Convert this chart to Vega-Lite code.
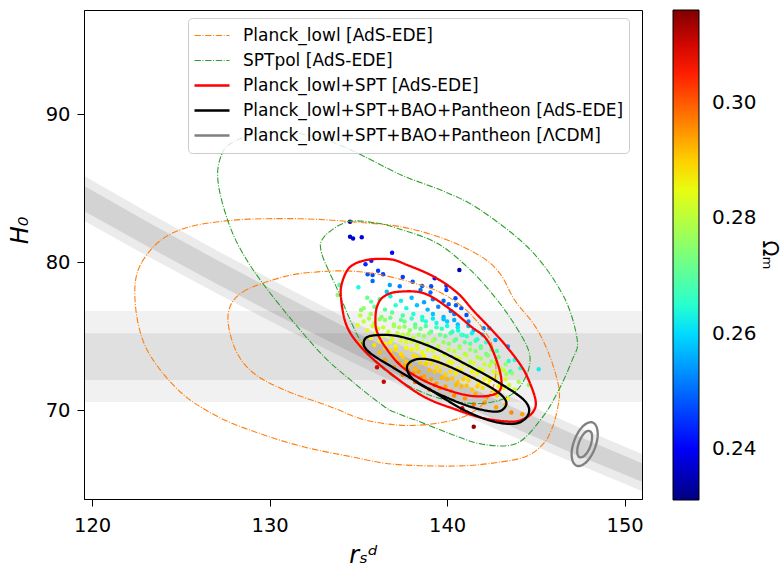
{
  "$schema": "https://vega.github.io/schema/vega-lite/v6.json",
  "width": 558,
  "height": 489,
  "autosize": {"type": "none"},
  "padding": {"left": 84, "top": 10, "right": 142, "bottom": 73},
  "background": "white",
  "config": {
    "view": {"stroke": "black", "strokeWidth": 1},
    "axis": {
      "domainColor": "black", "tickColor": "black", "tickSize": 7, "tickWidth": 1,
      "labelFont": "DejaVu Sans", "labelFontSize": 19.5, "labelColor": "black",
      "titleFont": "DejaVu Sans", "titleColor": "black", "titleFontWeight": "normal",
      "grid": false
    },
    "legend": {
      "labelFont": "DejaVu Sans", "labelColor": "black"
    }
  },
  "datasets": {
    "hband": [
      {"k": "outer", "xa": 119.54, "xb": 150.98, "lo": 70.55, "hi": 76.7},
      {"k": "inner", "xa": 119.54, "xb": 150.98, "lo": 72.05, "hi": 75.2}
    ],
    "dband": [
      {"x": 119.54, "lo2": 82.80, "lo1": 83.46, "hi1": 85.18, "hi2": 85.84},
      {"x": 123, "lo2": 80.49, "lo1": 81.15, "hi1": 82.81, "hi2": 83.47},
      {"x": 127, "lo2": 77.91, "lo1": 78.55, "hi1": 80.17, "hi2": 80.81},
      {"x": 131, "lo2": 75.42, "lo1": 76.06, "hi1": 77.62, "hi2": 78.26},
      {"x": 135, "lo2": 73.04, "lo1": 73.67, "hi1": 75.17, "hi2": 75.80},
      {"x": 139, "lo2": 70.76, "lo1": 71.39, "hi1": 72.83, "hi2": 73.46},
      {"x": 143, "lo2": 68.58, "lo1": 69.21, "hi1": 70.59, "hi2": 71.22},
      {"x": 147, "lo2": 66.51, "lo1": 67.13, "hi1": 68.45, "hi2": 69.07},
      {"x": 150.98, "lo2": 64.54, "lo1": 65.16, "hi1": 66.42, "hi2": 67.04}
    ],
    "pts": [
      {"rd":134.53,"H0":82.74,"om":0.234},{"rd":134.53,"H0":81.73,"om":0.237},{"rd":134.7,"H0":81.6,"om":0.238},{"rd":135.19,"H0":81.69,"om":0.239},
      {"rd":135.4,"H0":79.86,"om":0.244},{"rd":135.73,"H0":80.1,"om":0.243},{"rd":136.9,"H0":80.65,"om":0.241},{"rd":136.11,"H0":79.43,"om":0.246},
      {"rd":135.52,"H0":79.19,"om":0.248},{"rd":135.8,"H0":79.14,"om":0.247},{"rd":135.8,"H0":78.74,"om":0.25},{"rd":136.39,"H0":79.19,"om":0.246},
      {"rd":137.5,"H0":79.0,"om":0.246},{"rd":138.06,"H0":78.69,"om":0.248},{"rd":138.59,"H0":78.4,"om":0.249},{"rd":138.5,"H0":78.13,"om":0.251},
      {"rd":139.1,"H0":78.38,"om":0.247},{"rd":139.06,"H0":77.95,"om":0.25},{"rd":137.33,"H0":78.38,"om":0.252},{"rd":136.77,"H0":78.47,"om":0.255},
      {"rd":139.3,"H0":78.92,"om":0.243},{"rd":140.69,"H0":79.48,"om":0.234},{"rd":139.96,"H0":78.42,"om":0.245},{"rd":139.96,"H0":78.13,"om":0.246},
      {"rd":140.47,"H0":77.57,"om":0.247},{"rd":140.09,"H0":77.16,"om":0.25},{"rd":141.09,"H0":76.44,"om":0.248},{"rd":136.6,"H0":78.0,"om":0.258},
      {"rd":135.0,"H0":78.31,"om":0.263},{"rd":133.93,"H0":78.47,"om":0.268},{"rd":133.83,"H0":77.79,"om":0.274},{"rd":135.15,"H0":76.78,"om":0.275},
      {"rd":134.96,"H0":75.76,"om":0.283},{"rd":135.72,"H0":77.34,"om":0.27},
      {"rd":135.5,"H0":77.6,"om":0.272},{"rd":136.2,"H0":77.5,"om":0.268},{"rd":136.8,"H0":77.7,"om":0.262},{"rd":137.4,"H0":77.4,"om":0.262},{"rd":138.0,"H0":77.6,"om":0.257},{"rd":138.7,"H0":77.3,"om":0.255},{"rd":139.2,"H0":77.5,"om":0.252},{"rd":139.8,"H0":77.4,"om":0.25},{"rd":140.5,"H0":77.1,"om":0.249},
      {"rd":135.3,"H0":76.9,"om":0.276},{"rd":135.9,"H0":77.0,"om":0.272},{"rd":136.5,"H0":76.8,"om":0.27},{"rd":137.1,"H0":77.1,"om":0.265},{"rd":137.7,"H0":76.9,"om":0.263},{"rd":138.3,"H0":77.1,"om":0.258},{"rd":138.9,"H0":76.8,"om":0.257},{"rd":139.5,"H0":77.0,"om":0.253},{"rd":140.2,"H0":76.7,"om":0.252},{"rd":140.8,"H0":76.9,"om":0.248},
      {"rd":135.1,"H0":76.4,"om":0.28},{"rd":135.7,"H0":76.5,"om":0.277},{"rd":136.3,"H0":76.3,"om":0.274},{"rd":136.9,"H0":76.6,"om":0.27},{"rd":137.5,"H0":76.4,"om":0.268},{"rd":138.1,"H0":76.5,"om":0.264},{"rd":138.6,"H0":76.3,"om":0.263},{"rd":139.2,"H0":76.5,"om":0.258},{"rd":139.8,"H0":76.3,"om":0.257},{"rd":140.4,"H0":76.5,"om":0.252},
      {"rd":135.3,"H0":76.0,"om":0.281},{"rd":135.9,"H0":75.9,"om":0.28},{"rd":136.5,"H0":76.1,"om":0.276},{"rd":137.0,"H0":75.8,"om":0.276},{"rd":137.6,"H0":76.0,"om":0.272},{"rd":138.2,"H0":75.8,"om":0.27},{"rd":138.8,"H0":76.0,"om":0.265},{"rd":139.4,"H0":75.9,"om":0.263},{"rd":140.0,"H0":76.0,"om":0.259},{"rd":140.6,"H0":75.8,"om":0.258},{"rd":141.2,"H0":76.0,"om":0.253},
      {"rd":135.5,"H0":75.4,"om":0.284},{"rd":136.1,"H0":75.5,"om":0.282},{"rd":136.7,"H0":75.3,"om":0.281},{"rd":137.3,"H0":75.6,"om":0.278},{"rd":137.9,"H0":75.4,"om":0.276},{"rd":138.5,"H0":75.5,"om":0.272},{"rd":139.1,"H0":75.3,"om":0.27},{"rd":139.7,"H0":75.5,"om":0.266},{"rd":140.3,"H0":75.3,"om":0.265},{"rd":140.62,"H0":75.38,"om":0.263},{"rd":140.88,"H0":75.09,"om":0.263},{"rd":141.5,"H0":75.4,"om":0.258},{"rd":142.38,"H0":75.54,"om":0.255},
      {"rd":135.7,"H0":74.9,"om":0.287},{"rd":136.3,"H0":75.0,"om":0.284},{"rd":136.9,"H0":74.8,"om":0.283},{"rd":137.5,"H0":75.1,"om":0.281},{"rd":138.1,"H0":74.9,"om":0.28},{"rd":138.7,"H0":75.0,"om":0.276},{"rd":139.3,"H0":74.8,"om":0.275},{"rd":139.9,"H0":75.0,"om":0.271},{"rd":140.5,"H0":74.8,"om":0.27},{"rd":141.1,"H0":75.0,"om":0.266},{"rd":141.7,"H0":74.8,"om":0.265},{"rd":142.72,"H0":74.75,"om":0.256},
      {"rd":135.15,"H0":74.53,"om":0.29},{"rd":135.9,"H0":74.4,"om":0.289},{"rd":136.5,"H0":74.5,"om":0.287},{"rd":137.1,"H0":74.3,"om":0.286},{"rd":137.7,"H0":74.6,"om":0.283},{"rd":138.3,"H0":74.4,"om":0.282},{"rd":138.9,"H0":74.5,"om":0.28},{"rd":139.5,"H0":74.3,"om":0.279},{"rd":140.1,"H0":74.5,"om":0.275},{"rd":140.7,"H0":74.3,"om":0.274},{"rd":141.3,"H0":74.5,"om":0.27},{"rd":141.9,"H0":74.3,"om":0.269},{"rd":143.42,"H0":74.3,"om":0.253},
      {"rd":136.2,"H0":73.9,"om":0.292},{"rd":136.8,"H0":74.0,"om":0.289},{"rd":137.4,"H0":73.8,"om":0.289},{"rd":138.0,"H0":74.1,"om":0.286},{"rd":138.6,"H0":73.9,"om":0.285},{"rd":139.2,"H0":74.0,"om":0.283},{"rd":139.8,"H0":73.8,"om":0.282},{"rd":140.4,"H0":74.0,"om":0.28},{"rd":141.0,"H0":73.8,"om":0.279},{"rd":141.6,"H0":74.0,"om":0.275},{"rd":142.2,"H0":73.8,"om":0.273},{"rd":142.8,"H0":74.0,"om":0.268},
      {"rd":136.5,"H0":73.4,"om":0.294},{"rd":137.1,"H0":73.5,"om":0.292},{"rd":137.7,"H0":73.3,"om":0.291},{"rd":138.3,"H0":73.6,"om":0.289},{"rd":138.9,"H0":73.4,"om":0.287},{"rd":139.5,"H0":73.5,"om":0.285},{"rd":140.1,"H0":73.3,"om":0.285},{"rd":140.7,"H0":73.5,"om":0.282},{"rd":141.3,"H0":73.3,"om":0.281},{"rd":141.9,"H0":73.5,"om":0.278},{"rd":142.5,"H0":73.3,"om":0.276},{"rd":143.47,"H0":73.33,"om":0.265},{"rd":143.81,"H0":73.4,"om":0.264},
      {"rd":136.05,"H0":72.9,"om":0.31},{"rd":137.0,"H0":72.9,"om":0.296},{"rd":137.6,"H0":73.0,"om":0.293},{"rd":138.2,"H0":72.8,"om":0.292},{"rd":138.8,"H0":73.1,"om":0.29},{"rd":139.4,"H0":72.9,"om":0.289},{"rd":140.0,"H0":73.0,"om":0.287},{"rd":140.6,"H0":72.8,"om":0.286},{"rd":141.2,"H0":73.0,"om":0.284},{"rd":141.8,"H0":72.8,"om":0.283},{"rd":142.4,"H0":73.0,"om":0.281},{"rd":143.0,"H0":72.8,"om":0.279},{"rd":144.13,"H0":72.84,"om":0.265},{"rd":143.57,"H0":72.61,"om":0.266},{"rd":145.16,"H0":72.77,"om":0.262},
      {"rd":137.5,"H0":72.4,"om":0.298},{"rd":138.1,"H0":72.5,"om":0.295},{"rd":138.7,"H0":72.3,"om":0.294},{"rd":139.3,"H0":72.6,"om":0.291},{"rd":139.9,"H0":72.4,"om":0.29},{"rd":140.5,"H0":72.5,"om":0.288},{"rd":141.1,"H0":72.3,"om":0.288},{"rd":141.7,"H0":72.5,"om":0.285},{"rd":142.3,"H0":72.3,"om":0.285},{"rd":142.9,"H0":72.5,"om":0.282},{"rd":143.66,"H0":72.5,"om":0.276},{"rd":143.34,"H0":72.45,"om":0.278},
      {"rd":136.43,"H0":71.93,"om":0.311},{"rd":138.2,"H0":71.9,"om":0.299},{"rd":138.8,"H0":72.0,"om":0.295},{"rd":139.4,"H0":71.8,"om":0.294},{"rd":140.0,"H0":72.1,"om":0.292},{"rd":140.6,"H0":71.9,"om":0.291},{"rd":141.2,"H0":72.0,"om":0.289},{"rd":141.8,"H0":71.8,"om":0.288},{"rd":142.4,"H0":72.0,"om":0.286},{"rd":143.0,"H0":71.8,"om":0.284},{"rd":144.03,"H0":71.93,"om":0.278},{"rd":144.6,"H0":71.71,"om":0.275},
      {"rd":139.0,"H0":71.4,"om":0.299},{"rd":139.6,"H0":71.5,"om":0.295},{"rd":140.2,"H0":71.3,"om":0.294},{"rd":140.8,"H0":71.6,"om":0.292},{"rd":141.4,"H0":71.4,"om":0.291},{"rd":142.0,"H0":71.5,"om":0.289},{"rd":142.6,"H0":71.3,"om":0.288},{"rd":143.2,"H0":71.5,"om":0.284},{"rd":143.8,"H0":71.4,"om":0.282},
      {"rd":139.8,"H0":70.9,"om":0.299},{"rd":140.4,"H0":71.0,"om":0.296},{"rd":141.0,"H0":70.8,"om":0.295},{"rd":141.6,"H0":71.1,"om":0.293},{"rd":142.2,"H0":70.9,"om":0.292},{"rd":142.8,"H0":71.0,"om":0.289},{"rd":143.4,"H0":70.8,"om":0.287},
      {"rd":140.85,"H0":70.13,"om":0.31},{"rd":141.5,"H0":70.4,"om":0.298},{"rd":142.1,"H0":70.5,"om":0.295},{"rd":142.76,"H0":70.2,"om":0.294},{"rd":143.3,"H0":70.4,"om":0.292},{"rd":143.62,"H0":69.84,"om":0.296},{"rd":144.23,"H0":69.73,"om":0.294},
      {"rd":141.5,"H0":68.89,"om":0.315},{"rd":142.06,"H0":75.54,"om":0.252},
      {"rd":135.6,"H0":76.2,"om":0.279},{"rd":136.2,"H0":76.15,"om":0.276},{"rd":136.8,"H0":76.25,"om":0.272},{"rd":137.4,"H0":76.1,"om":0.271},{"rd":138.0,"H0":76.2,"om":0.267},{"rd":138.6,"H0":76.1,"om":0.265},{"rd":139.2,"H0":76.2,"om":0.261},{"rd":139.8,"H0":76.15,"om":0.258},{"rd":140.4,"H0":76.1,"om":0.256},
      {"rd":135.8,"H0":75.7,"om":0.282},{"rd":136.4,"H0":75.6,"om":0.281},{"rd":137.0,"H0":75.7,"om":0.278},{"rd":137.6,"H0":75.65,"om":0.276},{"rd":138.2,"H0":75.6,"om":0.273},{"rd":138.8,"H0":75.7,"om":0.269},{"rd":139.4,"H0":75.6,"om":0.267},{"rd":140.0,"H0":75.7,"om":0.263},{"rd":140.6,"H0":75.6,"om":0.261},{"rd":141.2,"H0":75.7,"om":0.257},
      {"rd":136.0,"H0":75.2,"om":0.285},{"rd":136.6,"H0":75.1,"om":0.284},{"rd":137.2,"H0":75.2,"om":0.281},{"rd":137.8,"H0":75.15,"om":0.28},{"rd":138.4,"H0":75.1,"om":0.277},{"rd":139.0,"H0":75.2,"om":0.274},{"rd":139.6,"H0":75.1,"om":0.272},{"rd":140.2,"H0":75.2,"om":0.268},{"rd":140.8,"H0":75.1,"om":0.267},{"rd":141.4,"H0":75.2,"om":0.262},{"rd":142.0,"H0":75.1,"om":0.261},
      {"rd":136.2,"H0":74.7,"om":0.287},{"rd":136.8,"H0":74.6,"om":0.286},{"rd":137.4,"H0":74.7,"om":0.284},{"rd":138.0,"H0":74.65,"om":0.283},{"rd":138.6,"H0":74.6,"om":0.281},{"rd":139.2,"H0":74.7,"om":0.278},{"rd":139.8,"H0":74.6,"om":0.276},{"rd":140.4,"H0":74.7,"om":0.272},{"rd":141.0,"H0":74.6,"om":0.271},{"rd":141.6,"H0":74.7,"om":0.267},{"rd":142.2,"H0":74.6,"om":0.266},
      {"rd":136.5,"H0":74.2,"om":0.29},{"rd":137.1,"H0":74.1,"om":0.289},{"rd":137.7,"H0":74.2,"om":0.287},{"rd":138.3,"H0":74.15,"om":0.285},{"rd":138.9,"H0":74.1,"om":0.284},{"rd":139.5,"H0":74.2,"om":0.282},{"rd":140.1,"H0":74.1,"om":0.281},{"rd":140.7,"H0":74.2,"om":0.278},{"rd":141.3,"H0":74.1,"om":0.276},{"rd":141.9,"H0":74.2,"om":0.272},{"rd":142.5,"H0":74.1,"om":0.271},
      {"rd":136.9,"H0":73.7,"om":0.292},{"rd":137.5,"H0":73.6,"om":0.29},{"rd":138.1,"H0":73.7,"om":0.289},{"rd":138.7,"H0":73.65,"om":0.287},{"rd":139.3,"H0":73.6,"om":0.286},{"rd":139.9,"H0":73.7,"om":0.284},{"rd":140.5,"H0":73.6,"om":0.283},{"rd":141.1,"H0":73.7,"om":0.281},{"rd":141.7,"H0":73.6,"om":0.279},{"rd":142.3,"H0":73.7,"om":0.275},{"rd":142.9,"H0":73.6,"om":0.273},
      {"rd":137.3,"H0":73.2,"om":0.294},{"rd":137.9,"H0":73.1,"om":0.292},{"rd":138.5,"H0":73.2,"om":0.29},{"rd":139.1,"H0":73.15,"om":0.289},{"rd":139.7,"H0":73.1,"om":0.288},{"rd":140.3,"H0":73.2,"om":0.286},{"rd":140.9,"H0":73.1,"om":0.285},{"rd":141.5,"H0":73.2,"om":0.283},{"rd":142.1,"H0":73.1,"om":0.281},{"rd":142.7,"H0":73.2,"om":0.279},{"rd":143.3,"H0":73.1,"om":0.276},
      {"rd":137.8,"H0":72.7,"om":0.296},{"rd":138.4,"H0":72.6,"om":0.294},{"rd":139.0,"H0":72.7,"om":0.292},{"rd":139.6,"H0":72.65,"om":0.29},{"rd":140.2,"H0":72.6,"om":0.289},{"rd":140.8,"H0":72.7,"om":0.287},{"rd":141.4,"H0":72.6,"om":0.286},{"rd":142.0,"H0":72.7,"om":0.284},{"rd":142.6,"H0":72.6,"om":0.283},{"rd":143.2,"H0":72.7,"om":0.281},
      {"rd":138.5,"H0":72.2,"om":0.297},{"rd":139.1,"H0":72.1,"om":0.294},{"rd":139.7,"H0":72.2,"om":0.292},{"rd":140.3,"H0":72.15,"om":0.291},{"rd":140.9,"H0":72.1,"om":0.29},{"rd":141.5,"H0":72.2,"om":0.288},{"rd":142.1,"H0":72.1,"om":0.286},{"rd":142.7,"H0":72.2,"om":0.285},{"rd":143.3,"H0":72.1,"om":0.283},
      {"rd":139.3,"H0":71.7,"om":0.297},{"rd":139.9,"H0":71.6,"om":0.294},{"rd":140.5,"H0":71.7,"om":0.292},{"rd":141.1,"H0":71.65,"om":0.291},{"rd":141.7,"H0":71.6,"om":0.29},{"rd":142.3,"H0":71.7,"om":0.288},{"rd":142.9,"H0":71.6,"om":0.286},{"rd":143.5,"H0":71.7,"om":0.282}
    ],
    "cont": [
      {"s":"Planck_lowl [AdS-EDE]","l":"A2","i":0,"x":122.41,"y":78.35},
      {"s":"Planck_lowl [AdS-EDE]","l":"A2","i":1,"x":122.8,"y":80.0},
      {"s":"Planck_lowl [AdS-EDE]","l":"A2","i":2,"x":123.88,"y":81.5},
      {"s":"Planck_lowl [AdS-EDE]","l":"A2","i":3,"x":125.5,"y":82.4},
      {"s":"Planck_lowl [AdS-EDE]","l":"A2","i":4,"x":128.0,"y":82.85},
      {"s":"Planck_lowl [AdS-EDE]","l":"A2","i":5,"x":130.5,"y":82.95},
      {"s":"Planck_lowl [AdS-EDE]","l":"A2","i":6,"x":132.7,"y":82.9},
      {"s":"Planck_lowl [AdS-EDE]","l":"A2","i":7,"x":135.0,"y":82.7},
      {"s":"Planck_lowl [AdS-EDE]","l":"A2","i":8,"x":137.4,"y":82.4},
      {"s":"Planck_lowl [AdS-EDE]","l":"A2","i":9,"x":139.8,"y":81.6},
      {"s":"Planck_lowl [AdS-EDE]","l":"A2","i":10,"x":141.9,"y":80.4},
      {"s":"Planck_lowl [AdS-EDE]","l":"A2","i":11,"x":143.0,"y":79.2},
      {"s":"Planck_lowl [AdS-EDE]","l":"A2","i":12,"x":143.8,"y":77.45},
      {"s":"Planck_lowl [AdS-EDE]","l":"A2","i":13,"x":145.0,"y":75.6},
      {"s":"Planck_lowl [AdS-EDE]","l":"A2","i":14,"x":145.8,"y":73.6},
      {"s":"Planck_lowl [AdS-EDE]","l":"A2","i":15,"x":146.3,"y":71.5},
      {"s":"Planck_lowl [AdS-EDE]","l":"A2","i":16,"x":146.25,"y":70.3},
      {"s":"Planck_lowl [AdS-EDE]","l":"A2","i":17,"x":145.95,"y":68.9},
      {"s":"Planck_lowl [AdS-EDE]","l":"A2","i":18,"x":145.45,"y":67.77},
      {"s":"Planck_lowl [AdS-EDE]","l":"A2","i":19,"x":144.5,"y":66.9},
      {"s":"Planck_lowl [AdS-EDE]","l":"A2","i":20,"x":143.0,"y":66.5},
      {"s":"Planck_lowl [AdS-EDE]","l":"A2","i":21,"x":141.0,"y":66.25},
      {"s":"Planck_lowl [AdS-EDE]","l":"A2","i":22,"x":138.5,"y":66.25},
      {"s":"Planck_lowl [AdS-EDE]","l":"A2","i":23,"x":136.47,"y":66.42},
      {"s":"Planck_lowl [AdS-EDE]","l":"A2","i":24,"x":134.59,"y":66.86},
      {"s":"Planck_lowl [AdS-EDE]","l":"A2","i":25,"x":132.0,"y":67.5},
      {"s":"Planck_lowl [AdS-EDE]","l":"A2","i":26,"x":129.5,"y":68.4},
      {"s":"Planck_lowl [AdS-EDE]","l":"A2","i":27,"x":127.07,"y":69.57},
      {"s":"Planck_lowl [AdS-EDE]","l":"A2","i":28,"x":125.0,"y":71.2},
      {"s":"Planck_lowl [AdS-EDE]","l":"A2","i":29,"x":123.31,"y":73.62},
      {"s":"Planck_lowl [AdS-EDE]","l":"A2","i":30,"x":122.6,"y":75.8},
      {"s":"Planck_lowl [AdS-EDE]","l":"A1","i":0,"x":127.67,"y":76.55},
      {"s":"Planck_lowl [AdS-EDE]","l":"A1","i":1,"x":128.5,"y":78.0},
      {"s":"Planck_lowl [AdS-EDE]","l":"A1","i":2,"x":130.83,"y":79.03},
      {"s":"Planck_lowl [AdS-EDE]","l":"A1","i":3,"x":132.7,"y":79.35},
      {"s":"Planck_lowl [AdS-EDE]","l":"A1","i":4,"x":134.59,"y":79.4},
      {"s":"Planck_lowl [AdS-EDE]","l":"A1","i":5,"x":136.5,"y":79.1},
      {"s":"Planck_lowl [AdS-EDE]","l":"A1","i":6,"x":139.06,"y":78.24},
      {"s":"Planck_lowl [AdS-EDE]","l":"A1","i":7,"x":140.4,"y":77.4},
      {"s":"Planck_lowl [AdS-EDE]","l":"A1","i":8,"x":141.31,"y":76.5},
      {"s":"Planck_lowl [AdS-EDE]","l":"A1","i":9,"x":142.06,"y":75.43},
      {"s":"Planck_lowl [AdS-EDE]","l":"A1","i":10,"x":142.5,"y":74.5},
      {"s":"Planck_lowl [AdS-EDE]","l":"A1","i":11,"x":142.75,"y":72.95},
      {"s":"Planck_lowl [AdS-EDE]","l":"A1","i":12,"x":142.6,"y":71.6},
      {"s":"Planck_lowl [AdS-EDE]","l":"A1","i":13,"x":142.0,"y":70.4},
      {"s":"Planck_lowl [AdS-EDE]","l":"A1","i":14,"x":140.8,"y":69.5},
      {"s":"Planck_lowl [AdS-EDE]","l":"A1","i":15,"x":139.0,"y":69.05},
      {"s":"Planck_lowl [AdS-EDE]","l":"A1","i":16,"x":137.18,"y":69.0},
      {"s":"Planck_lowl [AdS-EDE]","l":"A1","i":17,"x":135.2,"y":69.4},
      {"s":"Planck_lowl [AdS-EDE]","l":"A1","i":18,"x":133.42,"y":70.24},
      {"s":"Planck_lowl [AdS-EDE]","l":"A1","i":19,"x":130.83,"y":71.37},
      {"s":"Planck_lowl [AdS-EDE]","l":"A1","i":20,"x":129.0,"y":72.6},
      {"s":"Planck_lowl [AdS-EDE]","l":"A1","i":21,"x":128.0,"y":74.3},
      {"s":"SPTpol [AdS-EDE]","l":"B2","i":0,"x":127.07,"y":85.78},
      {"s":"SPTpol [AdS-EDE]","l":"B2","i":1,"x":127.3,"y":87.3},
      {"s":"SPTpol [AdS-EDE]","l":"B2","i":2,"x":127.82,"y":88.04},
      {"s":"SPTpol [AdS-EDE]","l":"B2","i":3,"x":129.0,"y":88.6},
      {"s":"SPTpol [AdS-EDE]","l":"B2","i":4,"x":130.83,"y":88.82},
      {"s":"SPTpol [AdS-EDE]","l":"B2","i":5,"x":132.8,"y":88.4},
      {"s":"SPTpol [AdS-EDE]","l":"B2","i":6,"x":134.59,"y":87.59},
      {"s":"SPTpol [AdS-EDE]","l":"B2","i":7,"x":137.41,"y":85.9},
      {"s":"SPTpol [AdS-EDE]","l":"B2","i":8,"x":139.8,"y":84.8},
      {"s":"SPTpol [AdS-EDE]","l":"B2","i":9,"x":141.88,"y":83.53},
      {"s":"SPTpol [AdS-EDE]","l":"B2","i":10,"x":144.7,"y":80.83},
      {"s":"SPTpol [AdS-EDE]","l":"B2","i":11,"x":146.57,"y":77.68},
      {"s":"SPTpol [AdS-EDE]","l":"B2","i":12,"x":147.33,"y":74.75},
      {"s":"SPTpol [AdS-EDE]","l":"B2","i":13,"x":147.05,"y":73.4},
      {"s":"SPTpol [AdS-EDE]","l":"B2","i":14,"x":146.2,"y":71.15},
      {"s":"SPTpol [AdS-EDE]","l":"B2","i":15,"x":145.26,"y":69.35},
      {"s":"SPTpol [AdS-EDE]","l":"B2","i":16,"x":143.9,"y":67.75},
      {"s":"SPTpol [AdS-EDE]","l":"B2","i":17,"x":142.0,"y":67.7},
      {"s":"SPTpol [AdS-EDE]","l":"B2","i":18,"x":140.2,"y":68.4},
      {"s":"SPTpol [AdS-EDE]","l":"B2","i":19,"x":138.5,"y":69.2},
      {"s":"SPTpol [AdS-EDE]","l":"B2","i":20,"x":137.4,"y":69.7},
      {"s":"SPTpol [AdS-EDE]","l":"B2","i":21,"x":136.47,"y":70.24},
      {"s":"SPTpol [AdS-EDE]","l":"B2","i":22,"x":134.5,"y":72.1},
      {"s":"SPTpol [AdS-EDE]","l":"B2","i":23,"x":132.71,"y":74.07},
      {"s":"SPTpol [AdS-EDE]","l":"B2","i":24,"x":129.89,"y":78.13},
      {"s":"SPTpol [AdS-EDE]","l":"B2","i":25,"x":128.3,"y":81.0},
      {"s":"SPTpol [AdS-EDE]","l":"B2","i":26,"x":127.45,"y":83.53},
      {"s":"SPTpol [AdS-EDE]","l":"B1","i":0,"x":134.4,"y":82.74},
      {"s":"SPTpol [AdS-EDE]","l":"B1","i":1,"x":136.0,"y":82.65},
      {"s":"SPTpol [AdS-EDE]","l":"B1","i":2,"x":137.18,"y":82.3},
      {"s":"SPTpol [AdS-EDE]","l":"B1","i":3,"x":139.44,"y":81.28},
      {"s":"SPTpol [AdS-EDE]","l":"B1","i":4,"x":141.31,"y":79.48},
      {"s":"SPTpol [AdS-EDE]","l":"B1","i":5,"x":142.82,"y":77.45},
      {"s":"SPTpol [AdS-EDE]","l":"B1","i":6,"x":143.9,"y":75.6},
      {"s":"SPTpol [AdS-EDE]","l":"B1","i":7,"x":144.6,"y":74.0},
      {"s":"SPTpol [AdS-EDE]","l":"B1","i":8,"x":144.6,"y":72.8},
      {"s":"SPTpol [AdS-EDE]","l":"B1","i":9,"x":144.1,"y":71.6},
      {"s":"SPTpol [AdS-EDE]","l":"B1","i":10,"x":143.4,"y":70.9},
      {"s":"SPTpol [AdS-EDE]","l":"B1","i":11,"x":142.3,"y":70.5},
      {"s":"SPTpol [AdS-EDE]","l":"B1","i":12,"x":140.94,"y":70.5},
      {"s":"SPTpol [AdS-EDE]","l":"B1","i":13,"x":139.3,"y":70.9},
      {"s":"SPTpol [AdS-EDE]","l":"B1","i":14,"x":137.6,"y":71.8},
      {"s":"SPTpol [AdS-EDE]","l":"B1","i":15,"x":136.2,"y":73.0},
      {"s":"SPTpol [AdS-EDE]","l":"B1","i":16,"x":135.3,"y":74.3},
      {"s":"SPTpol [AdS-EDE]","l":"B1","i":17,"x":134.5,"y":76.2},
      {"s":"SPTpol [AdS-EDE]","l":"B1","i":18,"x":133.83,"y":78.13},
      {"s":"SPTpol [AdS-EDE]","l":"B1","i":19,"x":132.93,"y":80.61},
      {"s":"SPTpol [AdS-EDE]","l":"B1","i":20,"x":133.08,"y":81.73},
      {"s":"Planck_lowl+SPT [AdS-EDE]","l":"C2","i":0,"x":134.02,"y":77.6},
      {"s":"Planck_lowl+SPT [AdS-EDE]","l":"C2","i":1,"x":134.1,"y":78.7},
      {"s":"Planck_lowl+SPT [AdS-EDE]","l":"C2","i":2,"x":134.55,"y":79.7},
      {"s":"Planck_lowl+SPT [AdS-EDE]","l":"C2","i":3,"x":135.49,"y":80.16},
      {"s":"Planck_lowl+SPT [AdS-EDE]","l":"C2","i":4,"x":136.8,"y":80.2},
      {"s":"Planck_lowl+SPT [AdS-EDE]","l":"C2","i":5,"x":137.74,"y":79.82},
      {"s":"Planck_lowl+SPT [AdS-EDE]","l":"C2","i":6,"x":139.25,"y":79.03},
      {"s":"Planck_lowl+SPT [AdS-EDE]","l":"C2","i":7,"x":140.56,"y":77.95},
      {"s":"Planck_lowl+SPT [AdS-EDE]","l":"C2","i":8,"x":141.5,"y":76.7},
      {"s":"Planck_lowl+SPT [AdS-EDE]","l":"C2","i":9,"x":142.3,"y":75.7},
      {"s":"Planck_lowl+SPT [AdS-EDE]","l":"C2","i":10,"x":143.19,"y":74.53},
      {"s":"Planck_lowl+SPT [AdS-EDE]","l":"C2","i":11,"x":144.0,"y":73.3},
      {"s":"Planck_lowl+SPT [AdS-EDE]","l":"C2","i":12,"x":144.51,"y":72.27},
      {"s":"Planck_lowl+SPT [AdS-EDE]","l":"C2","i":13,"x":144.98,"y":70.7},
      {"s":"Planck_lowl+SPT [AdS-EDE]","l":"C2","i":14,"x":144.85,"y":69.9},
      {"s":"Planck_lowl+SPT [AdS-EDE]","l":"C2","i":15,"x":144.3,"y":69.4},
      {"s":"Planck_lowl+SPT [AdS-EDE]","l":"C2","i":16,"x":143.57,"y":69.23},
      {"s":"Planck_lowl+SPT [AdS-EDE]","l":"C2","i":17,"x":142.06,"y":69.46},
      {"s":"Planck_lowl+SPT [AdS-EDE]","l":"C2","i":18,"x":140.56,"y":70.02},
      {"s":"Planck_lowl+SPT [AdS-EDE]","l":"C2","i":19,"x":138.68,"y":70.92},
      {"s":"Planck_lowl+SPT [AdS-EDE]","l":"C2","i":20,"x":136.8,"y":72.5},
      {"s":"Planck_lowl+SPT [AdS-EDE]","l":"C2","i":21,"x":135.3,"y":74.07},
      {"s":"Planck_lowl+SPT [AdS-EDE]","l":"C2","i":22,"x":134.36,"y":75.65},
      {"s":"Planck_lowl+SPT [AdS-EDE]","l":"C1","i":0,"x":135.96,"y":76.1},
      {"s":"Planck_lowl+SPT [AdS-EDE]","l":"C1","i":1,"x":136.05,"y":77.0},
      {"s":"Planck_lowl+SPT [AdS-EDE]","l":"C1","i":2,"x":136.4,"y":77.65},
      {"s":"Planck_lowl+SPT [AdS-EDE]","l":"C1","i":3,"x":137.2,"y":78.0},
      {"s":"Planck_lowl+SPT [AdS-EDE]","l":"C1","i":4,"x":138.7,"y":77.9},
      {"s":"Planck_lowl+SPT [AdS-EDE]","l":"C1","i":5,"x":140.2,"y":76.8},
      {"s":"Planck_lowl+SPT [AdS-EDE]","l":"C1","i":6,"x":141.3,"y":75.7},
      {"s":"Planck_lowl+SPT [AdS-EDE]","l":"C1","i":7,"x":142.25,"y":74.75},
      {"s":"Planck_lowl+SPT [AdS-EDE]","l":"C1","i":8,"x":142.9,"y":72.95},
      {"s":"Planck_lowl+SPT [AdS-EDE]","l":"C1","i":9,"x":143.05,"y":71.6},
      {"s":"Planck_lowl+SPT [AdS-EDE]","l":"C1","i":10,"x":142.6,"y":71.05},
      {"s":"Planck_lowl+SPT [AdS-EDE]","l":"C1","i":11,"x":141.5,"y":70.95},
      {"s":"Planck_lowl+SPT [AdS-EDE]","l":"C1","i":12,"x":140.2,"y":71.3},
      {"s":"Planck_lowl+SPT [AdS-EDE]","l":"C1","i":13,"x":138.7,"y":72.0},
      {"s":"Planck_lowl+SPT [AdS-EDE]","l":"C1","i":14,"x":137.4,"y":73.0},
      {"s":"Planck_lowl+SPT [AdS-EDE]","l":"C1","i":15,"x":136.5,"y":74.3},
      {"s":"Planck_lowl+SPT [AdS-EDE]","l":"C1","i":16,"x":136.05,"y":75.3},
      {"s":"Planck_lowl+SPT+BAO+Pantheon [AdS-EDE]","l":"D2","i":0,"x":135.3,"y":74.53},
      {"s":"Planck_lowl+SPT+BAO+Pantheon [AdS-EDE]","l":"D2","i":1,"x":135.68,"y":75.02},
      {"s":"Planck_lowl+SPT+BAO+Pantheon [AdS-EDE]","l":"D2","i":2,"x":137.18,"y":75.02},
      {"s":"Planck_lowl+SPT+BAO+Pantheon [AdS-EDE]","l":"D2","i":3,"x":139.06,"y":74.3},
      {"s":"Planck_lowl+SPT+BAO+Pantheon [AdS-EDE]","l":"D2","i":4,"x":140.94,"y":73.18},
      {"s":"Planck_lowl+SPT+BAO+Pantheon [AdS-EDE]","l":"D2","i":5,"x":142.82,"y":71.93},
      {"s":"Planck_lowl+SPT+BAO+Pantheon [AdS-EDE]","l":"D2","i":6,"x":144.32,"y":70.7},
      {"s":"Planck_lowl+SPT+BAO+Pantheon [AdS-EDE]","l":"D2","i":7,"x":144.6,"y":69.8},
      {"s":"Planck_lowl+SPT+BAO+Pantheon [AdS-EDE]","l":"D2","i":8,"x":143.95,"y":69.12},
      {"s":"Planck_lowl+SPT+BAO+Pantheon [AdS-EDE]","l":"D2","i":9,"x":142.63,"y":69.23},
      {"s":"Planck_lowl+SPT+BAO+Pantheon [AdS-EDE]","l":"D2","i":10,"x":140.94,"y":70.02},
      {"s":"Planck_lowl+SPT+BAO+Pantheon [AdS-EDE]","l":"D2","i":11,"x":139.06,"y":71.37},
      {"s":"Planck_lowl+SPT+BAO+Pantheon [AdS-EDE]","l":"D2","i":12,"x":137.18,"y":72.72},
      {"s":"Planck_lowl+SPT+BAO+Pantheon [AdS-EDE]","l":"D2","i":13,"x":135.68,"y":73.85},
      {"s":"Planck_lowl+SPT+BAO+Pantheon [AdS-EDE]","l":"D1","i":0,"x":137.74,"y":72.95},
      {"s":"Planck_lowl+SPT+BAO+Pantheon [AdS-EDE]","l":"D1","i":1,"x":138.31,"y":73.45},
      {"s":"Planck_lowl+SPT+BAO+Pantheon [AdS-EDE]","l":"D1","i":2,"x":139.44,"y":73.28},
      {"s":"Planck_lowl+SPT+BAO+Pantheon [AdS-EDE]","l":"D1","i":3,"x":141.31,"y":72.27},
      {"s":"Planck_lowl+SPT+BAO+Pantheon [AdS-EDE]","l":"D1","i":4,"x":142.82,"y":71.26},
      {"s":"Planck_lowl+SPT+BAO+Pantheon [AdS-EDE]","l":"D1","i":5,"x":143.34,"y":70.47},
      {"s":"Planck_lowl+SPT+BAO+Pantheon [AdS-EDE]","l":"D1","i":6,"x":142.82,"y":69.91},
      {"s":"Planck_lowl+SPT+BAO+Pantheon [AdS-EDE]","l":"D1","i":7,"x":141.31,"y":70.24},
      {"s":"Planck_lowl+SPT+BAO+Pantheon [AdS-EDE]","l":"D1","i":8,"x":139.44,"y":71.15},
      {"s":"Planck_lowl+SPT+BAO+Pantheon [AdS-EDE]","l":"D1","i":9,"x":138.12,"y":72.05},
      {"s":"Planck_lowl+SPT+BAO+Pantheon [ΛCDM]","l":"E2","i":0,"x":148.2,"y":69.17},
      {"s":"Planck_lowl+SPT+BAO+Pantheon [ΛCDM]","l":"E2","i":1,"x":148.43,"y":68.84},
      {"s":"Planck_lowl+SPT+BAO+Pantheon [ΛCDM]","l":"E2","i":2,"x":148.48,"y":68.21},
      {"s":"Planck_lowl+SPT+BAO+Pantheon [ΛCDM]","l":"E2","i":3,"x":148.33,"y":67.45},
      {"s":"Planck_lowl+SPT+BAO+Pantheon [ΛCDM]","l":"E2","i":4,"x":148.03,"y":66.76},
      {"s":"Planck_lowl+SPT+BAO+Pantheon [ΛCDM]","l":"E2","i":5,"x":147.65,"y":66.32},
      {"s":"Planck_lowl+SPT+BAO+Pantheon [ΛCDM]","l":"E2","i":6,"x":147.3,"y":66.25},
      {"s":"Planck_lowl+SPT+BAO+Pantheon [ΛCDM]","l":"E2","i":7,"x":147.07,"y":66.58},
      {"s":"Planck_lowl+SPT+BAO+Pantheon [ΛCDM]","l":"E2","i":8,"x":147.02,"y":67.21},
      {"s":"Planck_lowl+SPT+BAO+Pantheon [ΛCDM]","l":"E2","i":9,"x":147.17,"y":67.97},
      {"s":"Planck_lowl+SPT+BAO+Pantheon [ΛCDM]","l":"E2","i":10,"x":147.47,"y":68.66},
      {"s":"Planck_lowl+SPT+BAO+Pantheon [ΛCDM]","l":"E2","i":11,"x":147.85,"y":69.1},
      {"s":"Planck_lowl+SPT+BAO+Pantheon [ΛCDM]","l":"E1","i":0,"x":148.03,"y":68.59},
      {"s":"Planck_lowl+SPT+BAO+Pantheon [ΛCDM]","l":"E1","i":1,"x":148.15,"y":68.41},
      {"s":"Planck_lowl+SPT+BAO+Pantheon [ΛCDM]","l":"E1","i":2,"x":148.16,"y":68.03},
      {"s":"Planck_lowl+SPT+BAO+Pantheon [ΛCDM]","l":"E1","i":3,"x":148.07,"y":67.57},
      {"s":"Planck_lowl+SPT+BAO+Pantheon [ΛCDM]","l":"E1","i":4,"x":147.89,"y":67.14},
      {"s":"Planck_lowl+SPT+BAO+Pantheon [ΛCDM]","l":"E1","i":5,"x":147.67,"y":66.87},
      {"s":"Planck_lowl+SPT+BAO+Pantheon [ΛCDM]","l":"E1","i":6,"x":147.47,"y":66.82},
      {"s":"Planck_lowl+SPT+BAO+Pantheon [ΛCDM]","l":"E1","i":7,"x":147.35,"y":67.01},
      {"s":"Planck_lowl+SPT+BAO+Pantheon [ΛCDM]","l":"E1","i":8,"x":147.34,"y":67.39},
      {"s":"Planck_lowl+SPT+BAO+Pantheon [ΛCDM]","l":"E1","i":9,"x":147.44,"y":67.85},
      {"s":"Planck_lowl+SPT+BAO+Pantheon [ΛCDM]","l":"E1","i":10,"x":147.62,"y":68.28},
      {"s":"Planck_lowl+SPT+BAO+Pantheon [ΛCDM]","l":"E1","i":11,"x":147.83,"y":68.55}
    ]
  },
  "layer": [
    {
      "data": {"name": "hband"},
      "transform": [{"filter": "datum.k == 'outer'"}],
      "mark": {"type": "rect", "color": "black", "opacity": 0.055},
      "encoding": {
        "x": {"field": "xa", "type": "quantitative", "title": "rₛᵈ",
              "scale": {"domain": [119.54, 150.98], "nice": false, "zero": false},
              "axis": {"values": [120, 130, 140, 150], "labelPadding": 10, "titleFontSize": 24, "titleFontStyle": "italic",
                       "titleX": 279, "titleY": 63, "titleBaseline": "alphabetic", "titleAlign": "center"}},
        "x2": {"field": "xb"},
        "y": {"field": "lo", "type": "quantitative", "title": "H₀",
              "scale": {"domain": [64, 97.05], "nice": false, "zero": false},
              "axis": {"values": [70, 80, 90], "labelPadding": 7, "titleFontSize": 24, "titleFontStyle": "italic",
                       "titleX": -64, "titleY": 220, "titleAngle": -90, "titleBaseline": "middle", "titleAlign": "center"}},
        "y2": {"field": "hi"}
      }
    },
    {
      "data": {"name": "hband"},
      "transform": [{"filter": "datum.k == 'inner'"}],
      "mark": {"type": "rect", "color": "black", "opacity": 0.07},
      "encoding": {
        "x": {"field": "xa", "type": "quantitative", "title": "rₛᵈ", "scale": {"domain": [119.54, 150.98], "nice": false, "zero": false}},
        "x2": {"field": "xb"},
        "y": {"field": "lo", "type": "quantitative", "title": "H₀", "scale": {"domain": [64, 97.05], "nice": false, "zero": false}},
        "y2": {"field": "hi"}
      }
    },
    {
      "data": {"name": "dband"},
      "mark": {"type": "area", "color": "black", "opacity": 0.078, "clip": true},
      "encoding": {
        "x": {"field": "x", "type": "quantitative", "title": "rₛᵈ", "scale": {"domain": [119.54, 150.98], "nice": false, "zero": false}},
        "y": {"field": "lo2", "type": "quantitative", "title": "H₀", "scale": {"domain": [64, 97.05], "nice": false, "zero": false}},
        "y2": {"field": "hi2"}
      }
    },
    {
      "data": {"name": "dband"},
      "mark": {"type": "area", "color": "black", "opacity": 0.1, "clip": true},
      "encoding": {
        "x": {"field": "x", "type": "quantitative", "title": "rₛᵈ", "scale": {"domain": [119.54, 150.98], "nice": false, "zero": false}},
        "y": {"field": "lo1", "type": "quantitative", "title": "H₀", "scale": {"domain": [64, 97.05], "nice": false, "zero": false}},
        "y2": {"field": "hi1"}
      }
    },
    {
      "data": {"name": "pts"},
      "mark": {"type": "circle", "size": 20, "opacity": 1, "clip": true},
      "encoding": {
        "x": {"field": "rd", "type": "quantitative", "title": "rₛᵈ", "scale": {"domain": [119.54, 150.98], "nice": false, "zero": false}},
        "y": {"field": "H0", "type": "quantitative", "title": "H₀", "scale": {"domain": [64, 97.05], "nice": false, "zero": false}},
        "color": {
          "field": "om", "type": "quantitative",
          "scale": {
            "type": "linear",
            "domain": [0.2311, 0.2405, 0.26, 0.263, 0.2737, 0.2843, 0.2873, 0.2949, 0.3068, 0.3162],
            "range": ["#000080", "#0000ff", "#00dbff", "#14ffe2", "#7dff7a", "#e2ff14", "#fff000", "#ff9700", "#ff0a00", "#800000"],
            "interpolate": "rgb"
          },
          "legend": {
            "orient": "none", "legendX": 589, "legendY": 0, "direction": "vertical",
            "gradientLength": 490, "gradientThickness": 26,
            "gradientStrokeColor": "black", "gradientStrokeWidth": 1,
            "values": [0.24, 0.26, 0.28, 0.30], "format": ".2f", "labelOverlap": false,
            "labelFont": "DejaVu Sans", "labelFontSize": 20, "labelColor": "black", "labelOffset": 13,
            "title": "Ωₘ", "titleOrient": "right", "titleAngle": 90, "titleAnchor": "middle",
            "titleFont": "DejaVu Sans", "titleFontSize": 21, "titleFontWeight": "normal", "titleColor": "black",
            "titlePadding": 12, "titleBaseline": "middle", "titleAlign": "center"
          }
        }
      }
    },
    {
      "data": {"name": "cont"},
      "transform": [{"filter": "datum.s == 'Planck_lowl [AdS-EDE]' || datum.s == 'SPTpol [AdS-EDE]'"}],
      "mark": {"type": "line", "interpolate": "cardinal-closed", "strokeWidth": 1.1, "clip": true},
      "encoding": {
        "x": {"field": "x", "type": "quantitative", "title": "rₛᵈ", "scale": {"domain": [119.54, 150.98], "nice": false, "zero": false}},
        "y": {"field": "y", "type": "quantitative", "title": "H₀", "scale": {"domain": [64, 97.05], "nice": false, "zero": false}},
        "detail": {"field": "l", "type": "nominal"},
        "order": {"field": "i", "type": "quantitative"},
        "stroke": {
          "field": "s", "type": "nominal",
          "scale": {
            "domain": ["Planck_lowl [AdS-EDE]", "SPTpol [AdS-EDE]", "Planck_lowl+SPT [AdS-EDE]", "Planck_lowl+SPT+BAO+Pantheon [AdS-EDE]", "Planck_lowl+SPT+BAO+Pantheon [ΛCDM]"],
            "range": ["#ff7f0e", "#2ca02c", "#ff0000", "#000000", "#808080"]
          },
          "legend": {
            "orient": "none", "legendX": 104, "legendY": 8, "title": null,
            "labelFont": "DejaVu Sans", "labelFontSize": 17, "labelColor": "black", "labelLimit": 600,
            "symbolType": "stroke", "symbolSize": 1225, "clipHeight": 25, "rowPadding": 0, "labelOffset": 12,
            "padding": 5, "fillColor": "rgba(255,255,255,0.8)", "strokeColor": "#cccccc", "cornerRadius": 4,
            "encode": {"symbols": {"update": {"size": {"value": 1225}, "strokeWidth": {"signal": "(datum.value == 'Planck_lowl [AdS-EDE]' || datum.value == 'SPTpol [AdS-EDE]' ? 1.1 : 2.3)"}}}}
          }
        },
        "strokeDash": {
          "field": "s", "type": "nominal",
          "scale": {
            "domain": ["Planck_lowl [AdS-EDE]", "SPTpol [AdS-EDE]", "Planck_lowl+SPT [AdS-EDE]", "Planck_lowl+SPT+BAO+Pantheon [AdS-EDE]", "Planck_lowl+SPT+BAO+Pantheon [ΛCDM]"],
            "range": [[6.4, 1.6, 1, 1.6], [6.4, 1.6, 1, 1.6], [1, 0], [1, 0], [1, 0]]
          },
          "legend": {
            "orient": "none", "legendX": 104, "legendY": 8, "title": null,
            "labelFont": "DejaVu Sans", "labelFontSize": 17, "labelColor": "black", "labelLimit": 600,
            "symbolType": "stroke", "symbolSize": 1225, "clipHeight": 25, "rowPadding": 0, "labelOffset": 12,
            "padding": 5, "fillColor": "rgba(255,255,255,0.8)", "strokeColor": "#cccccc", "cornerRadius": 4,
            "encode": {"symbols": {"update": {"size": {"value": 1225}, "strokeWidth": {"signal": "(datum.value == 'Planck_lowl [AdS-EDE]' || datum.value == 'SPTpol [AdS-EDE]' ? 1.1 : 2.3)"}}}}
          }
        }
      }
    },
    {
      "data": {"name": "cont"},
      "transform": [{"filter": "datum.s != 'Planck_lowl [AdS-EDE]' && datum.s != 'SPTpol [AdS-EDE]'"}],
      "mark": {"type": "line", "interpolate": "cardinal-closed", "strokeWidth": 2.3, "clip": true},
      "encoding": {
        "x": {"field": "x", "type": "quantitative", "title": "rₛᵈ", "scale": {"domain": [119.54, 150.98], "nice": false, "zero": false}},
        "y": {"field": "y", "type": "quantitative", "title": "H₀", "scale": {"domain": [64, 97.05], "nice": false, "zero": false}},
        "detail": {"field": "l", "type": "nominal"},
        "order": {"field": "i", "type": "quantitative"},
        "stroke": {
          "field": "s", "type": "nominal",
          "scale": {
            "domain": ["Planck_lowl [AdS-EDE]", "SPTpol [AdS-EDE]", "Planck_lowl+SPT [AdS-EDE]", "Planck_lowl+SPT+BAO+Pantheon [AdS-EDE]", "Planck_lowl+SPT+BAO+Pantheon [ΛCDM]"],
            "range": ["#ff7f0e", "#2ca02c", "#ff0000", "#000000", "#808080"]
          },
          "legend": {
            "orient": "none", "legendX": 104, "legendY": 8, "title": null,
            "labelFont": "DejaVu Sans", "labelFontSize": 17, "labelColor": "black", "labelLimit": 600,
            "symbolType": "stroke", "symbolSize": 1225, "clipHeight": 25, "rowPadding": 0, "labelOffset": 12,
            "padding": 5, "fillColor": "rgba(255,255,255,0.8)", "strokeColor": "#cccccc", "cornerRadius": 4,
            "encode": {"symbols": {"update": {"size": {"value": 1225}, "strokeWidth": {"signal": "(datum.value == 'Planck_lowl [AdS-EDE]' || datum.value == 'SPTpol [AdS-EDE]' ? 1.1 : 2.3)"}}}}
          }
        },
        "strokeDash": {
          "field": "s", "type": "nominal",
          "scale": {
            "domain": ["Planck_lowl [AdS-EDE]", "SPTpol [AdS-EDE]", "Planck_lowl+SPT [AdS-EDE]", "Planck_lowl+SPT+BAO+Pantheon [AdS-EDE]", "Planck_lowl+SPT+BAO+Pantheon [ΛCDM]"],
            "range": [[6.4, 1.6, 1, 1.6], [6.4, 1.6, 1, 1.6], [1, 0], [1, 0], [1, 0]]
          },
          "legend": {
            "orient": "none", "legendX": 104, "legendY": 8, "title": null,
            "labelFont": "DejaVu Sans", "labelFontSize": 17, "labelColor": "black", "labelLimit": 600,
            "symbolType": "stroke", "symbolSize": 1225, "clipHeight": 25, "rowPadding": 0, "labelOffset": 12,
            "padding": 5, "fillColor": "rgba(255,255,255,0.8)", "strokeColor": "#cccccc", "cornerRadius": 4,
            "encode": {"symbols": {"update": {"size": {"value": 1225}, "strokeWidth": {"signal": "(datum.value == 'Planck_lowl [AdS-EDE]' || datum.value == 'SPTpol [AdS-EDE]' ? 1.1 : 2.3)"}}}}
          }
        }
      }
    }
  ]
}
